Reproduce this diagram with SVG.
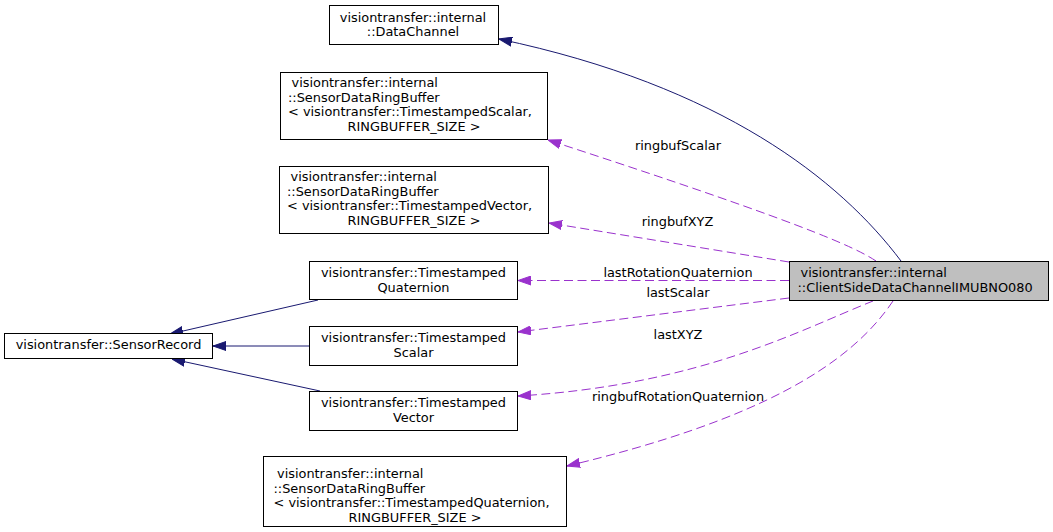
<svg xmlns="http://www.w3.org/2000/svg" width="1053" height="532" viewBox="0 0 1053 532">
<style>
.box{fill:#ffffff;stroke:#000000;stroke-width:1}
.hl{fill:#bfbfbf;stroke:#000000;stroke-width:1}
text{font-family:"DejaVu Sans","Liberation Sans",sans-serif;font-size:12.9px;fill:#000000}
.c{text-anchor:middle}
.inh{fill:none;stroke:#191970;stroke-width:1;marker-end:url(#ab)}
.use{fill:none;stroke:#9a32cd;stroke-width:1;stroke-dasharray:9,4.5;marker-end:url(#ap)}
</style>
<defs>
<marker id="ab" viewBox="0 0 13 10" refX="13" refY="5" markerWidth="13" markerHeight="10" orient="auto" markerUnits="userSpaceOnUse"><path d="M0,0.5 L13,5 L0,9.5 Z" fill="#191970" stroke="#191970" stroke-dasharray="none"/></marker>
<marker id="ap" viewBox="0 0 13 10" refX="13" refY="5" markerWidth="13" markerHeight="10" orient="auto" markerUnits="userSpaceOnUse"><path d="M0,0.5 L13,5 L0,9.5 Z" fill="#9a32cd" stroke="#9a32cd" stroke-dasharray="none"/></marker>
</defs>
<rect width="1053" height="532" fill="#ffffff"/>
<g id="connectors">
<path class="inh" d="M901,261 C840,180 722,86 499,39"/>
<path class="use" d="M876,261 C855,247 800,222 548,140"/>
<path class="use" d="M789,262 L549,223"/>
<path class="use" d="M789,280.5 L518,280.5"/>
<path class="use" d="M789,298 L518,332"/>
<path class="use" d="M873,301 C800,330 700,385 518,396"/>
<path class="use" d="M893,301 C850,365 760,420 567,466"/>
<path class="inh" d="M318,300 L170,334"/>
<path class="inh" d="M309,346 L213,346"/>
<path class="inh" d="M320,391 L172,359"/>
<text class="c" x="678" y="150">ringbufScalar</text>
<text class="c" x="677.5" y="226">ringbufXYZ</text>
<text class="c" x="678" y="277">lastRotationQuaternion</text>
<text class="c" x="678" y="297">lastScalar</text>
<text class="c" x="678" y="339">lastXYZ</text>
<text class="c" x="678" y="401">ringbufRotationQuaternion</text>
</g>
<g id="node_main">
<rect class="hl" x="789.5" y="261.5" width="259" height="39"/>
<text x="800.5" y="277">visiontransfer::internal</text>
<text x="797.5" y="291.5">::ClientSideDataChannelIMUBNO080</text>
</g>
<g id="node_datachannel">
<rect class="box" x="329.5" y="5.5" width="169" height="39"/>
<text class="c" x="413" y="21.5">visiontransfer::internal</text>
<text class="c" x="413" y="36">::DataChannel</text>
</g>
<g id="node_rb_scalar">
<rect class="box" x="280.5" y="72.5" width="267" height="67"/>
<text x="291.5" y="87">visiontransfer::internal</text>
<text x="288" y="101.5">::SensorDataRingBuffer</text>
<text x="288" y="116">&lt; visiontransfer::TimestampedScalar,</text>
<text class="c" x="414" y="130.5">RINGBUFFER_SIZE &gt;</text>
</g>
<g id="node_rb_vector">
<rect class="box" x="279.5" y="166.5" width="269" height="67"/>
<text x="290.5" y="181">visiontransfer::internal</text>
<text x="287" y="195.5">::SensorDataRingBuffer</text>
<text x="287" y="210">&lt; visiontransfer::TimestampedVector,</text>
<text class="c" x="414" y="224.5">RINGBUFFER_SIZE &gt;</text>
</g>
<g id="node_ts_quaternion">
<rect class="box" x="309.5" y="261.5" width="208" height="38"/>
<text class="c" x="413.5" y="277">visiontransfer::Timestamped</text>
<text class="c" x="413.5" y="291.5">Quaternion</text>
</g>
<g id="node_ts_scalar">
<rect class="box" x="309.5" y="326.5" width="208" height="39"/>
<text class="c" x="413.5" y="342">visiontransfer::Timestamped</text>
<text class="c" x="413.5" y="356.5">Scalar</text>
</g>
<g id="node_ts_vector">
<rect class="box" x="309.5" y="391.5" width="208" height="39"/>
<text class="c" x="413.5" y="407">visiontransfer::Timestamped</text>
<text class="c" x="413.5" y="421.5">Vector</text>
</g>
<g id="node_sensorrecord">
<rect class="box" x="4.5" y="333.5" width="208" height="25"/>
<text class="c" x="108.5" y="349">visiontransfer::SensorRecord</text>
</g>
<g id="node_rb_quaternion">
<rect class="box" x="263.5" y="456.5" width="303" height="70"/>
<text x="277" y="478">visiontransfer::internal</text>
<text x="273.5" y="492.5">::SensorDataRingBuffer</text>
<text x="273.5" y="507">&lt; visiontransfer::TimestampedQuaternion,</text>
<text class="c" x="415" y="521.5">RINGBUFFER_SIZE &gt;</text>
</g>
</svg>
